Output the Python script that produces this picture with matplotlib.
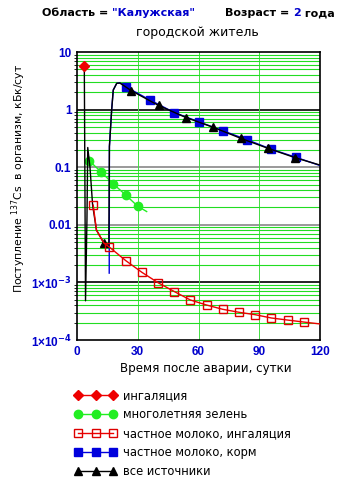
import numpy as np
import matplotlib.pyplot as plt
from matplotlib.ticker import FixedLocator, FixedFormatter, LogLocator, NullFormatter

plt.rcParams['font.family'] = ['DejaVu Sans']

# inhalation
inh_x = [3.6]
inh_y = [5.7]

# perennial greens
green_x = [5.3, 6, 12, 18, 24, 30, 34.4]
green_y = [0.18, 0.13, 0.082, 0.051, 0.033, 0.021, 0.017]
green_marks = [1, 2, 3, 4, 5]

# private milk, inhalation
milk_inh_x = [8, 9.6, 13.3, 16, 24, 32, 40, 48, 56, 64, 72, 80, 88, 96, 104, 112, 120]
milk_inh_y = [0.022, 0.0081, 0.0048, 0.0041, 0.0024, 0.0015, 9.9e-4, 6.95e-4, 4.95e-4,
              4.05e-4, 3.41e-4, 3.03e-4, 2.75e-4, 2.41e-4, 2.22e-4, 2.05e-4, 1.9e-4]
milk_inh_marks = [0] + list(range(3, 16))

# private milk, feed
milk_feed_x = [15.9, 16.0, 17.1, 17.9, 19.6, 21.2, 24, 36, 48, 60, 72, 84, 96, 108, 120]
milk_feed_y = [1.45e-3, 0.23, 0.98, 2.19, 2.86, 2.9, 2.5, 1.47, 0.891, 0.617, 0.43,
               0.30, 0.205, 0.149, 0.107]
milk_feed_marks = list(range(6, 14))

# all sources
all_x = [3.6, 4.2, 4.9, 5.3, 6.4, 7.7, 9.6, 13.3, 15.7, 16.0, 17.1, 17.9, 19.6, 21.2,
         26.8, 40.3, 53.8, 67.3, 80.8, 94.3, 107.8, 120]
all_y = [5.7, 4.8e-4, 0.012, 0.22, 0.1, 0.022, 0.0081, 0.0048, 0.0042, 0.23, 0.98, 2.19,
         2.86, 2.9, 2.13, 1.18, 0.729, 0.493, 0.318, 0.213, 0.146, 0.109]
all_marks = [7] + list(range(14, 21))

labels = ['ингаляция', 'многолетняя зелень', 'частное молоко, ингаляция',
          'частное молоко, корм', 'все источники']

fig = plt.figure(figsize=(3.52, 4.84), dpi=100)
ax = fig.add_axes([0.2188, 0.2975, 0.6903, 0.595])
ax.set_yscale('log')
ax.set_xlim(0, 120)
ax.set_ylim(1e-4, 10)

# grid
ax.yaxis.set_minor_locator(LogLocator(base=10, subs=np.arange(2, 10)))
ax.yaxis.set_minor_formatter(NullFormatter())
ax.grid(True, which='minor', axis='y', color='#22dd22', lw=0.8)
for v, c in [(1, 'black'), (0.1, '#888888'), (0.01, '#888888'), (1e-3, 'black')]:
    ax.axhline(v, color=c, lw=1.2, zorder=1)
for v in [30, 60, 90]:
    ax.axvline(v, color='#44dd44', lw=0.7, zorder=1)

h_blue, = ax.plot(milk_feed_x, milk_feed_y, color='#0000dd', lw=1, marker='s', ms=6,
                  markevery=milk_feed_marks, mfc='#0000dd', mec='#0000dd', zorder=3)
h_all, = ax.plot(all_x, all_y, color='black', lw=1, marker='^', ms=6,
                 markevery=all_marks, zorder=4)
h_green, = ax.plot(green_x, green_y, color='#22ee22', lw=1, marker='o', ms=6,
                   markevery=green_marks, zorder=3)
h_red, = ax.plot(milk_inh_x, milk_inh_y, color='#ee0000', lw=1, marker='s', ms=6,
                 markevery=milk_inh_marks, mfc='none', mec='#dd0000', zorder=5)
h_inh, = ax.plot(inh_x, inh_y, color='#ee0000', lw=1, marker='D', ms=5, zorder=6)

ax.yaxis.set_major_locator(FixedLocator([1e-4, 1e-3, 0.01, 0.1, 1, 10]))
ax.yaxis.set_major_formatter(FixedFormatter([r'1×10$^{\mathbf{-4}}$',
                                             r'1×10$^{\mathbf{-3}}$',
                                             '0.01', '0.1', '1', '10']))
ax.set_xticks([0, 30, 60, 90, 120])
ax.tick_params(length=0, pad=4, labelsize=8.5, labelcolor='#0000cc')
for t in ax.get_xticklabels() + ax.get_yticklabels():
    t.set_fontweight('bold')
    t.set_family('Liberation Sans')
for s in ax.spines.values():
    s.set_linewidth(1.2)

ax.set_xlabel('Время после аварии, сутки', fontsize=8.6)
ax.xaxis.set_label_coords(0.53, -0.075)
ax.set_ylabel(r'Поступление $^{137}$Cs  в организм, кБк/сут', fontsize=7.8)
ax.yaxis.set_label_coords(-0.2, 0.56)

# title, drawn piece by piece
fig.canvas.draw()
renderer = fig.canvas.get_renderer()


def put_row(x0, y0, parts):
    x = x0
    for txt, col in parts:
        t = fig.text(x, y0, txt, fontsize=8, fontweight='bold', color=col, va='center')
        bb = t.get_window_extent(renderer)
        x += bb.width / fig.bbox.width


put_row(42 / 352, 1 - 13 / 484, [('Область = ', 'black'), ('"Калужская"', '#0000cc')])
put_row(225 / 352, 1 - 13 / 484, [('Возраст = ', 'black'), ('2', '#0000cc'), (' года', 'black')])
fig.text(197 / 352, 1 - 33 / 484, 'городской житель', fontsize=9, ha='center', va='center')

fig.legend([h_inh, h_green, h_red, h_blue, h_all], labels, loc='upper left',
           bbox_to_anchor=(0.2, 0.205), frameon=False, fontsize=8.3, numpoints=3,
           handlelength=3.6, labelspacing=0.52, handletextpad=0.6, borderaxespad=0)

fig.savefig('out.png', dpi=100)
